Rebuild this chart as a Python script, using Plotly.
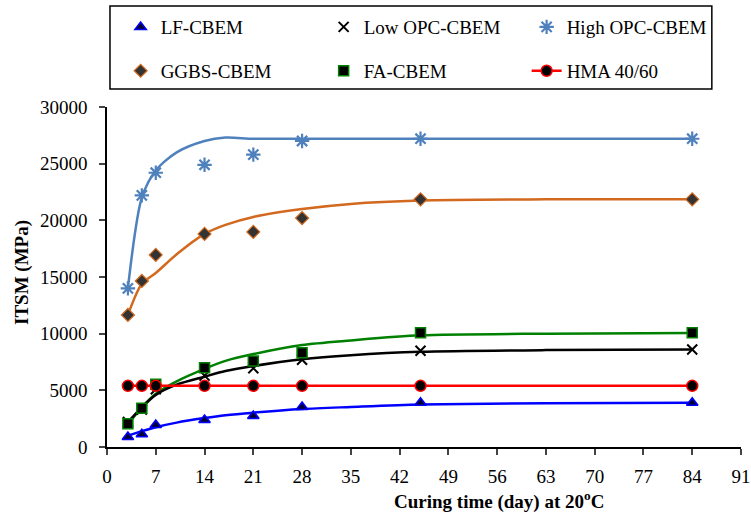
import plotly.graph_objects as go

days = [3, 5, 7, 14, 21, 28, 45, 84]
lf_cbem = [880, 1120, 1940, 2380, 2740, 3530, 3910, 3910]
low_opc = [2200, 3300, 5100, 6300, 6950, 7700, 8500, 8600]
high_opc = [14000, 22200, 24200, 24900, 25800, 27000, 27200, 27200]
ggbs = [11650, 14650, 16950, 18800, 18980, 20200, 21850, 21850]
fa = [2060, 3410, 5530, 7000, 7590, 8320, 10090, 10090]
hma = [5400, 5400, 5400, 5400, 5400, 5400, 5400, 5400]

fit_days = [3, 5, 7, 10, 14, 17, 21, 28, 35, 45, 63, 84]
fit_high_opc = [14000, 22000, 24400, 26000, 27000, 27300, 27200, 27200, 27200, 27200, 27200, 27200]
fit_ggbs = [11650, 14400, 15350, 17000, 18800, 19600, 20300, 21000, 21450, 21750, 21850, 21850]
fit_fa = [2000, 3500, 4700, 5800, 6900, 7600, 8200, 9000, 9400, 9850, 10000, 10050]
fit_low_opc = [2200, 3500, 4600, 5500, 6200, 6700, 7150, 7750, 8100, 8400, 8550, 8600]
fit_lf = [1000, 1400, 1750, 2150, 2550, 2800, 3030, 3350, 3530, 3750, 3850, 3900]

x_ticks = list(range(0, 92, 7))
y_ticks = list(range(0, 30001, 5000))
y_ticklabels = [str(v) for v in y_ticks]

FONT = "Liberation Serif"
FS = 19
fig = go.Figure()

def fit(y, color):
    fig.add_trace(go.Scatter(x=fit_days, y=y, mode="lines",
                             line=dict(color=color, width=2.5, shape="spline", smoothing=0.8),
                             showlegend=False, hoverinfo="skip"))

fit(fit_high_opc, "#4f81bd")
fit(fit_ggbs, "#d2691e")
fit(fit_fa, "#008000")
fit(fit_low_opc, "#000000")
fit(fit_lf, "#0000ff")

fig.add_trace(go.Scatter(x=days, y=lf_cbem, mode="markers", name="LF-CBEM", legend="legend",
                         marker=dict(symbol="triangle-up", size=10, color="#000033", line=dict(color="#0000ff", width=1.5))))
fig.add_trace(go.Scatter(x=days, y=low_opc, mode="markers", name="Low OPC-CBEM", legend="legend",
                         marker=dict(symbol="x-thin", size=10, color="#000000", line=dict(color="#000000", width=2))))
fig.add_trace(go.Scatter(x=days, y=high_opc, mode="markers", name="High OPC-CBEM", legend="legend",
                         marker=dict(symbol="asterisk", size=12, color="#4f81bd", line=dict(color="#4f81bd", width=2.2))))
fig.add_trace(go.Scatter(x=days, y=ggbs, mode="markers", name="GGBS-CBEM", legend="legend2",
                         marker=dict(symbol="diamond", size=10, color="#333333", line=dict(color="#d2691e", width=1.2))))
fig.add_trace(go.Scatter(x=days, y=fa, mode="markers", name="FA-CBEM", legend="legend2",
                         marker=dict(symbol="square", size=10, color="#000000", line=dict(color="#008000", width=1.5))))
fig.add_trace(go.Scatter(x=days, y=hma, mode="lines+markers", name="HMA 40/60", legend="legend2",
                         line=dict(color="#ff0000", width=2.5),
                         marker=dict(symbol="circle", size=11, color="#000000", line=dict(color="#ff0000", width=1.5))))

# Legend frame
fig.add_shape(type="rect", xref="paper", yref="paper", x0=0.0047, x1=0.954, y0=1.053, y1=1.297,
              line=dict(color="black", width=1.5), fillcolor="rgba(0,0,0,0)")

leg_common = dict(orientation="h", xanchor="left", yanchor="top",
                  entrywidth=158, entrywidthmode="pixels",
                  font=dict(family=FONT, size=FS), bgcolor="rgba(0,0,0,0)", itemwidth=30)

fig.update_layout(
    width=751, height=513,
    margin=dict(l=107, r=10, t=107, b=66, autoexpand=False),
    paper_bgcolor="white", plot_bgcolor="white",
    font=dict(family=FONT, size=FS, color="black"),
    legend=dict(x=0.0215, y=1.291, **leg_common),
    legend2=dict(x=0.0215, y=1.162, **leg_common),
    xaxis=dict(range=[0, 91], tickvals=x_ticks, ticks="outside", ticklen=6, tickwidth=1.5,
               showline=True, linecolor="black", linewidth=1.5, showgrid=False, zeroline=False,
               automargin=False, ticklabelstandoff=5, tickfont=dict(family=FONT, size=FS)),
    yaxis=dict(range=[0, 30000], tickvals=y_ticks, ticktext=y_ticklabels, ticks="outside", ticklen=6, tickwidth=1.5,
               showline=True, linecolor="black", linewidth=1.5, showgrid=False, zeroline=False,
               automargin=False, ticklabelstandoff=8, tickfont=dict(family=FONT, size=FS)),
)

fig.add_annotation(xref="paper", yref="paper", x=-0.134, y=0.512, xanchor="center", yanchor="middle",
                   text="<b>ITSM (MPa)</b>", textangle=-90, showarrow=False,
                   font=dict(family=FONT, size=FS))
fig.add_annotation(xref="paper", yref="paper", x=0.618, y=-0.156, xanchor="center", yanchor="middle",
                   text="<b>Curing time (day) at 20<sup>o</sup>C</b>", showarrow=False,
                   font=dict(family=FONT, size=FS))

fig.write_html("out.html", config={"displayModeBar": False},
               post_script="document.body.style.margin='0';document.body.style.padding='0';")
